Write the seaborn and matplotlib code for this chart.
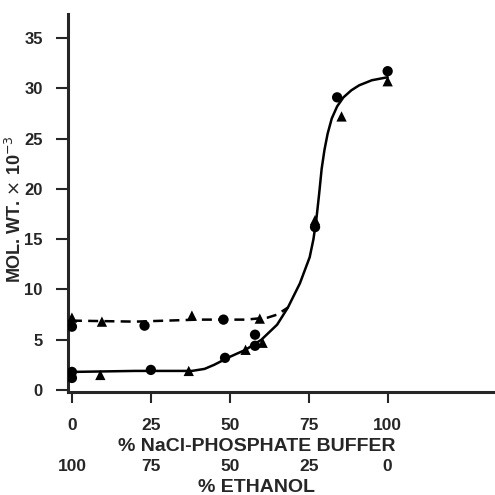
import matplotlib
matplotlib.use('Agg')
import matplotlib.pyplot as plt
import matplotlib.transforms as mtransforms
import pandas as pd
import seaborn as sns

# measured points, % NaCl-phosphate buffer vs mol. wt. x 10^-3
solid_circle_x = [0, 0, 25, 48.5, 58, 58, 77, 84, 100]
solid_circle_y = [1.8, 1.2, 2.0, 3.2, 4.4, 5.5, 16.2, 29.1, 31.7]
solid_tri_x = [9, 37, 55, 60.4, 77, 85.4, 100]
solid_tri_y = [1.5, 1.9, 4.0, 4.7, 16.9, 27.2, 30.7]

dashed_circle_x = [0, 23, 48]
dashed_circle_y = [6.3, 6.4, 7.0]
dashed_tri_x = [0, 9.5, 38, 59.5]
dashed_tri_y = [7.2, 6.8, 7.4, 7.1]

# curves drawn through the points
solid_curve_x = [0, 20, 38, 42, 45, 50, 55, 60, 65, 68.4, 72.2, 75.3, 76.5,
                 77.5, 78.3, 79.1, 80.0, 81.0, 82.3, 84, 86, 88.5, 91, 95, 100]
solid_curve_y = [1.8, 1.9, 1.9, 2.1, 2.5, 3.3, 4.0, 5.0, 6.5, 8.2, 10.6, 13.2,
                 15.0, 17.2, 19.5, 22.0, 23.9, 25.5, 27.0, 28.2, 29.1, 29.8,
                 30.3, 30.8, 31.1]
dashed_curve_x = [0, 20, 40, 55, 62, 65, 68.4]
dashed_curve_y = [6.9, 6.8, 7.0, 7.0, 7.2, 7.5, 8.2]

buffer_ticks = [0, 25, 50, 75, 100]
ethanol_labels = ['100', '75', '50', '25', '0']

sns.set_style('ticks')
plt.rcParams['font.family'] = ['Liberation Sans', 'DejaVu Sans']

fig = plt.figure(figsize=(4.95, 4.95), dpi=100)
ax = fig.add_axes([0.137, 0.208, 0.863, 0.764])

sns.lineplot(x=solid_curve_x, y=solid_curve_y, sort=False, color='black',
             lw=1.8, ax=ax)
sns.lineplot(x=dashed_curve_x, y=dashed_curve_y, sort=False, color='black',
             lw=1.8, ax=ax, dashes=False, linestyle=(0, (4, 2.5)))

pts = pd.DataFrame({
    'x': solid_circle_x + dashed_circle_x + solid_tri_x + dashed_tri_x,
    'y': solid_circle_y + dashed_circle_y + solid_tri_y + dashed_tri_y,
    'kind': ['circle'] * (len(solid_circle_x) + len(dashed_circle_x))
            + ['tri'] * (len(solid_tri_x) + len(dashed_tri_x)),
})
sns.scatterplot(data=pts, x='x', y='y', style='kind',
                markers={'circle': 'o', 'tri': '^'}, color='black',
                s=55, linewidth=0, legend=False, ax=ax, zorder=3)

ax.set_xlim(-1.3, 134)
ax.set_ylim(-0.2, 37.4)
ax.set_yticks([0, 5, 10, 15, 20, 25, 30, 35])
ax.set_xticks(buffer_ticks)
ax.set_xticklabels([str(t) for t in buffer_ticks])
ax.tick_params(axis='y', length=9, width=1.5, pad=9, labelsize=12)
ax.tick_params(axis='x', length=8, width=1.5, pad=11, labelsize=12.5)
for lbl in ax.get_xticklabels() + ax.get_yticklabels():
    lbl.set_fontweight('bold')
ax.set_xlabel('')
ax.set_ylabel('')
sns.despine(ax=ax)
ax.spines['left'].set_linewidth(2.2)
ax.spines['bottom'].set_linewidth(2.2)

trans = mtransforms.blended_transform_factory(ax.transData, fig.transFigure)
ax.text(58.5, 0.097, '% NaCl-PHOSPHATE BUFFER', transform=trans,
        ha='center', va='center', fontsize=14, fontweight='bold')
for t, lab in zip(buffer_ticks, ethanol_labels):
    ax.text(t, 0.057, lab, transform=trans, ha='center', va='center',
            fontsize=12.5, fontweight='bold')
ax.text(58.5, 0.016, '% ETHANOL', transform=trans,
        ha='center', va='center', fontsize=14, fontweight='bold')

fig.text(0.031, 0.578, r'MOL. WT. $\times$ 10$^{-3}$', rotation=90,
         ha='center', va='center', fontsize=13, fontweight='bold')

fig.savefig('out.png', dpi=100)
